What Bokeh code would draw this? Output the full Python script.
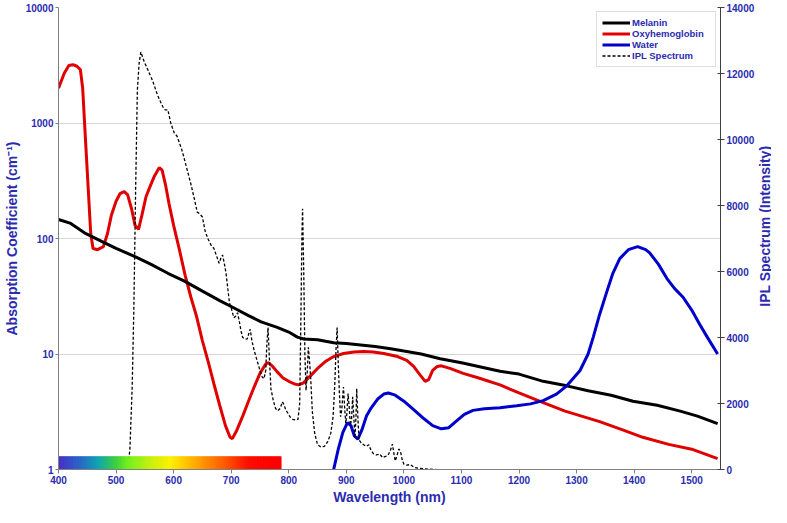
import math
import numpy as np
from bokeh.plotting import figure
from bokeh.layouts import row
from bokeh.models import Range1d, LinearAxis, FixedTicker, ColumnDataSource, LinearScale
from bokeh.core.properties import value
from bokeh.embed import file_html
from bokeh.resources import INLINE

# ---------------- data ----------------
mel_wl = [400, 420, 445, 474, 500, 532, 560, 590, 618, 650, 680, 705, 730, 752, 780, 800, 815, 826,
          850, 878, 900, 950, 977, 1000, 1030, 1063, 1100, 1167, 1200, 1242, 1283, 1320, 1360, 1398,
          1440, 1480, 1510, 1545]
mel_val = [146, 136, 112, 95, 82, 70, 60, 50, 43, 35, 29, 25, 21.5, 19, 17, 15.5, 14, 13.5,
           13.3, 12.5, 12.3, 11.6, 11.1, 10.6, 10.0, 9.1, 8.4, 7.1, 6.7, 5.8, 5.3, 4.8, 4.4, 3.9,
           3.6, 3.2, 2.9, 2.5]

oxy_wl = [400, 410, 418, 425, 432, 438, 442, 447, 452, 456, 460, 468, 478, 485, 492, 500, 507, 514,
          520, 527, 533, 539, 545, 552, 560, 567, 575, 580, 586, 592, 600, 610, 620, 630, 640, 650,
          660, 670, 680, 690, 698, 702, 710, 720, 730, 740, 750, 760, 765, 772, 780, 790, 800, 810,
          817, 825, 838, 850, 865, 878, 895, 913, 930, 947, 965, 989, 1005, 1017, 1027, 1037, 1043,
          1050, 1058, 1065, 1080, 1103, 1130, 1167, 1200, 1242, 1280, 1340, 1380, 1415, 1460, 1500,
          1545]
oxy_val = [2000, 2700, 3150, 3200, 3100, 2900, 2000, 700, 250, 110, 82, 80, 85, 110, 160, 210, 245,
           255, 240, 180, 130, 120, 160, 230, 290, 350, 410, 390, 290, 200, 130, 80, 48, 31, 21, 13,
           8.6, 5.5, 3.6, 2.4, 1.9, 1.85, 2.2, 2.9, 3.9, 5.2, 6.8, 8.2, 8.4, 7.8, 7.0, 6.2, 5.8, 5.5,
           5.4, 5.6, 6.5, 7.5, 8.7, 9.5, 10.1, 10.4, 10.5, 10.4, 10.1, 9.5, 8.8, 7.8, 6.7, 5.8, 6.0,
           7.2, 7.8, 7.9, 7.5, 6.8, 6.2, 5.4, 4.6, 3.8, 3.2, 2.6, 2.2, 1.9, 1.65, 1.5,
           1.24]

wat_wl = [878, 886, 894, 902, 908, 914, 920, 927, 935, 943, 955, 965, 973, 985, 1000, 1017, 1035,
          1050, 1065, 1078, 1090, 1105, 1120, 1140, 1167, 1196, 1220, 1242, 1265, 1283, 1306, 1320,
          1329, 1340, 1352, 1363, 1375, 1390, 1406, 1420, 1427, 1442, 1457, 1470, 1485, 1500, 1514,
          1527, 1545]
wat_val = [1.0, 1.5, 2.1, 2.55, 2.4, 1.95, 1.83, 2.2, 2.9, 3.4, 4.1, 4.5, 4.6, 4.4, 3.9, 3.3, 2.75,
           2.4, 2.25, 2.3, 2.6, 3.0, 3.25, 3.35, 3.43, 3.56, 3.7, 3.95, 4.5, 5.3, 7.2, 10,
           14, 22, 34, 50, 67, 80, 85, 80, 75, 60, 45, 37, 31, 24, 18,
           14, 10]

ipl_wl = [520, 524, 528, 531, 534, 537, 540, 543, 546, 549, 553, 558, 563, 567, 572, 577, 581, 585,
          590, 595, 601, 606, 610, 614, 618, 624, 630, 636, 641, 645, 650, 655, 660, 665, 670, 675,
          679, 682, 685, 688, 691, 694, 697, 700, 703, 705, 708, 711, 714, 717, 720, 724, 728, 731,
          733, 736, 740, 745, 750, 754, 757, 760, 762, 764, 766, 769, 773, 777, 781, 785, 789, 792,
          795, 798, 802, 807, 812, 816, 819, 821, 823, 824, 826, 828, 830, 832, 834, 836, 838, 841,
          845, 850, 856, 862, 868, 873, 877, 880, 882, 884, 886, 888, 890, 892, 895, 897, 899, 901,
          903, 905, 907, 909, 911, 913, 915, 917, 918, 920, 922, 926, 930, 935, 939, 943, 947, 952,
          958, 963, 968, 972, 976, 980, 983, 985, 988, 991, 994, 997, 1000, 1005, 1011, 1018, 1025,
          1035, 1045, 1055]
ipl_val = [0, 600, 2500, 5000, 8500, 11500, 12300, 12650, 12500, 12350, 12200, 12000, 11800, 11600,
           11350, 11150, 11000, 10900, 10900, 10500, 10200, 10100, 9900, 9700, 9450, 9050, 8650,
           8200, 7800, 7750, 7650, 7200, 6980, 6800, 6700, 6450, 6250, 6400, 6500, 6250, 5950, 5500,
           5050, 4900, 4700, 4600, 4650, 4750, 4500, 4200, 4000, 3950, 3960, 4150, 4250, 3900, 3600,
           3300, 3000, 2800, 2750, 3000, 3800, 4300, 3500, 2450, 2100, 1850, 1780, 1850, 2050, 1950,
           1800, 1720, 1600, 1520, 1500, 1520, 2000, 4500, 7200, 7900, 6000, 3500, 2400, 2900, 3700,
           3300, 2800, 1750, 1100, 750, 680, 700, 850, 1100, 1600, 2600, 3600, 4300, 3200, 2300,
           1600, 1800, 2500, 1900, 1400, 1700, 2300, 1900, 1350, 1500, 2200, 1600, 950, 1700, 2450,
           1600, 900, 800, 750, 700, 750, 580, 480, 440, 470, 360, 400, 420, 550, 770, 450, 260, 420,
           620, 560, 300, 160, 130, 150, 60, 40, 20, 10, 0]

# visible-spectrum bar
bar_start, bar_end = 400, 786
bar_bottom, bar_top = 1.0, 1.29
bar_stop_wl = [400, 440, 470, 500, 520, 560, 595, 640, 690, 730, 786]
bar_stop_col = ["#4B2FC8", "#2A6CC8", "#10A8B0", "#40D040", "#70F020", "#C8F010",
                "#FFF000", "#FFA800", "#FF5A00", "#FF1000", "#FF0000"]

x_ticks = [400, 500, 600, 700, 800, 900, 1000, 1100, 1200, 1300, 1400, 1500]
y_ticks = [1, 10, 100, 1000, 10000]
y2_ticks = [0, 2000, 4000, 6000, 8000, 10000, 12000, 14000]

x_title = "Wavelength (nm)"
y_title = "Absorption Coefficient (cm\u207b\u00b9)"
y2_title = "IPL Spectrum (Intensity)"

# ---------------- style ----------------
TXT = "#2B2BB0"
FONT = "Liberation Sans"
H = 507

p = figure(width=757, height=H, y_axis_type="log",
           x_range=Range1d(400, 1550), y_range=Range1d(1, 10000),
           output_backend="svg", toolbar_location=None,
           min_border_left=0, min_border_right=0, min_border_top=7, min_border_bottom=0)
p.outline_line_color = None
p.background_fill_color = "white"
p.xgrid.grid_line_color = None
p.ygrid.ticker = FixedTicker(ticks=[10, 100, 1000])
p.ygrid.grid_line_color = "#D6D6D6"
p.ygrid.grid_line_width = 1.2

p.extra_y_ranges = {"ipl": Range1d(0, 14000)}
p.extra_y_scales = {"ipl": LinearScale()}

def style_axis(ax, tin=0, tout=3):
    ax.major_label_text_font = FONT
    ax.major_label_text_font_style = "bold"
    ax.major_label_text_font_size = "10px"
    ax.major_label_text_color = TXT
    ax.axis_label_text_font = FONT
    ax.axis_label_text_font_style = "bold"
    ax.axis_label_text_font_size = "14px"
    ax.axis_label_text_color = TXT
    ax.minor_tick_line_color = None
    ax.major_tick_in = tin
    ax.major_tick_out = tout
    ax.major_label_standoff = 2
    ax.axis_label_standoff = 3

xa = p.xaxis[0]
xa.ticker = FixedTicker(ticks=x_ticks)
xa.axis_label = x_title
style_axis(xa, 0, 4)
xa.axis_line_color = "#808080"
xa.major_tick_line_color = "#808080"
xa.axis_label_standoff = 2

ya = p.yaxis[0]
ya.ticker = FixedTicker(ticks=y_ticks)
ya.major_label_overrides = {t: str(t) for t in y_ticks}
ya.axis_label = y_title
style_axis(ya, 0, 3)
ya.axis_line_color = "#808080"
ya.major_tick_line_color = "#808080"

y2 = LinearAxis(y_range_name="ipl")
y2.ticker = FixedTicker(ticks=y2_ticks)
style_axis(y2, 3, 4)
y2.axis_line_color = "#404040"
y2.major_tick_line_color = "#404040"
p.add_layout(y2, "right")

# ---------------- glyphs ----------------
p.line(oxy_wl, oxy_val, line_color="#E00000", line_width=3, legend_label="Oxyhemoglobin")
p.line(mel_wl, mel_val, line_color="black", line_width=3, legend_label="Melanin")
p.line(wat_wl, wat_val, line_color="#0000CC", line_width=3, legend_label="Water")
p.line(ipl_wl, ipl_val, line_color="black", line_width=1.3, line_dash="3 2",
       y_range_name="ipl", legend_label="IPL Spectrum")

# spectrum bar built from colour stops
def hex2rgb(h):
    return [int(h[i:i + 2], 16) for i in (1, 3, 5)]

stops_rgb = np.array([hex2rgb(c) for c in bar_stop_col], dtype=float)
n = 300
edges = np.linspace(bar_start, bar_end, n + 1)
mids = 0.5 * (edges[:-1] + edges[1:])
cols = []
for m in mids:
    r = np.interp(m, bar_stop_wl, stops_rgb[:, 0])
    g = np.interp(m, bar_stop_wl, stops_rgb[:, 1])
    b = np.interp(m, bar_stop_wl, stops_rgb[:, 2])
    cols.append("#%02x%02x%02x" % (int(r), int(g), int(b)))
src = ColumnDataSource(dict(left=edges[:-1], right=edges[1:] + 1.0,
                            bottom=[bar_bottom] * n, top=[bar_top] * n, color=cols))
p.quad(left="left", right="right", bottom="bottom", top="top", fill_color="color",
       line_color="color", line_width=0.5, source=src)

# ---------------- legend ----------------
lg = p.legend[0]
items = {it.label.value: it for it in lg.items}
lg.items = [items["Melanin"], items["Oxyhemoglobin"], items["Water"], items["IPL Spectrum"]]
lg.location = "top_right"
lg.margin = 4
lg.padding = 5
lg.spacing = 0
lg.label_text_font = FONT
lg.label_text_font_style = "bold"
lg.label_text_font_size = "9.5px"
lg.label_text_color = TXT
lg.label_height = 11
lg.label_width = 78
lg.glyph_height = 11
lg.glyph_width = 28
lg.label_standoff = 2
lg.border_line_color = "#C0C0C0"
lg.background_fill_alpha = 1.0

# ---------------- right-hand axis title (reads bottom to top) ----------------
t = figure(width=14, height=H, x_range=Range1d(0, 1), y_range=Range1d(0, H),
           output_backend="svg", toolbar_location=None,
           min_border_left=0, min_border_right=0, min_border_top=0, min_border_bottom=0)
t.axis.visible = False
t.grid.visible = False
t.outline_line_color = None
t.text(x=[0.5], y=[H - 240], text=[y2_title], angle=math.pi / 2,
       text_align="center", text_baseline="middle", text_font=value(FONT),
       text_font_style="bold", text_font_size="14px", text_color=TXT)

open("out.html", "w").write(file_html(row(p, t), INLINE))
